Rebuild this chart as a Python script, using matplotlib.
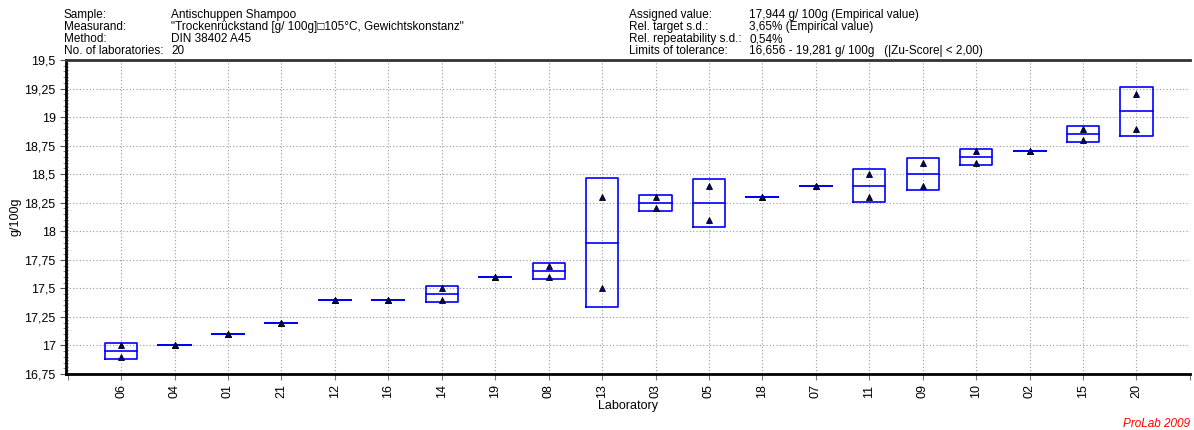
import numpy as np
import matplotlib.pyplot as plt
from matplotlib.ticker import MultipleLocator, FuncFormatter

plt.rcParams['font.family'] = ['Liberation Sans', 'DejaVu Sans']

# laboratories in plotted order, two replicate results each
labs = ['06', '04', '01', '21', '12', '16', '14', '19', '08', '13',
        '03', '05', '18', '07', '11', '09', '10', '02', '15', '20']
rep1 = [17.0, 17.0, 17.1, 17.2, 17.4, 17.4, 17.5, 17.6, 17.7, 18.3,
        18.3, 18.4, 18.3, 18.4, 18.5, 18.6, 18.7, 18.7, 18.9, 19.2]
rep2 = [16.9, 17.0, 17.1, 17.2, 17.4, 17.4, 17.4, 17.6, 17.6, 17.5,
        18.2, 18.1, 18.3, 18.4, 18.3, 18.4, 18.6, 18.7, 18.8, 18.9]

header_left = [('Sample:', 'Antischuppen Shampoo'),
               ('Measurand:', '"Trockenrückstand [g/ 100g]\u25a1105°C, Gewichtskonstanz"'),
               ('Method:', 'DIN 38402 A45'),
               ('No. of laboratories:', '20')]
header_right = [('Assigned value:', '17,944 g/ 100g (Empirical value)'),
                ('Rel. target s.d.:', '3,65% (Empirical value)'),
                ('Rel. repeatability s.d.:', '0,54%'),
                ('Limits of tolerance:', '16,656 - 19,281 g/ 100g   (|Zu-Score| < 2,00)')]

fig = plt.figure(figsize=(11.94, 4.30), dpi=100)
ax = fig.add_axes([0.0553, 0.1302, 0.9413, 0.7303])

x = np.arange(1, len(labs) + 1)
vals = np.array([rep1, rep2])
mean = vals.mean(axis=0)
sd = vals.std(axis=0, ddof=1)
w = 0.3
for xi, m, s in zip(x, mean, sd):
    ax.plot([xi - w, xi + w, xi + w, xi - w, xi - w],
            [m - s, m - s, m + s, m + s, m - s], color='#0000ff', lw=1.2, zorder=3)
    ax.plot([xi - w, xi + w], [m, m], color='#0000ff', lw=1.2, zorder=3)
for r in (rep1, rep2):
    ax.plot(x, r, ls='none', marker='^', ms=5, mfc='#000080', mec='black', mew=0.6, zorder=4)

ax.set_xlim(-0.03, 21.0)
ax.set_ylim(16.75, 19.5)
ax.set_xticks(np.arange(0, 22))
ax.set_xticklabels([''] + labs + [''], rotation=90, fontsize=9)
ax.yaxis.set_major_locator(MultipleLocator(0.25))
ax.yaxis.set_minor_locator(MultipleLocator(0.05))
ax.yaxis.set_major_formatter(FuncFormatter(lambda v, p: ('%g' % v).replace('.', ',')))
ax.tick_params(axis='y', labelsize=9, length=4, width=0.8, color='#555555')
ax.tick_params(axis='y', which='minor', length=2, width=0.6, color='#777777')
ax.tick_params(axis='x', length=4, width=0.8, color='#777777')
ax.grid(True, ls=(0, (1, 2)), color='#999999', lw=0.8)
ax.set_axisbelow(True)
for s in ('left', 'bottom', 'top'):
    ax.spines[s].set_linewidth(2)
ax.spines['top'].set_color('#333333')
ax.spines['right'].set_visible(False)
ax.set_xlabel('Laboratory', fontsize=9, labelpad=1)
ax.set_ylabel('g/100g', fontsize=9, labelpad=2)

for i, (k, v) in enumerate(header_left):
    y = 1 - (15 + 12 * i) / 430
    fig.text(64 / 1194, y, k, fontsize=8.5, va='center')
    fig.text(171 / 1194, y, v, fontsize=8.5, va='center')
for i, (k, v) in enumerate(header_right):
    y = 1 - (15 + 12 * i) / 430
    fig.text(629 / 1194, y, k, fontsize=8.5, va='center')
    fig.text(749 / 1194, y, v, fontsize=8.5, va='center')

fig.text(1190 / 1194, 1 - 424 / 430, 'ProLab 2009', color='#ff0000', style='italic',
         fontsize=8.5, ha='right', va='center')

fig.savefig('out.png', dpi=100)
